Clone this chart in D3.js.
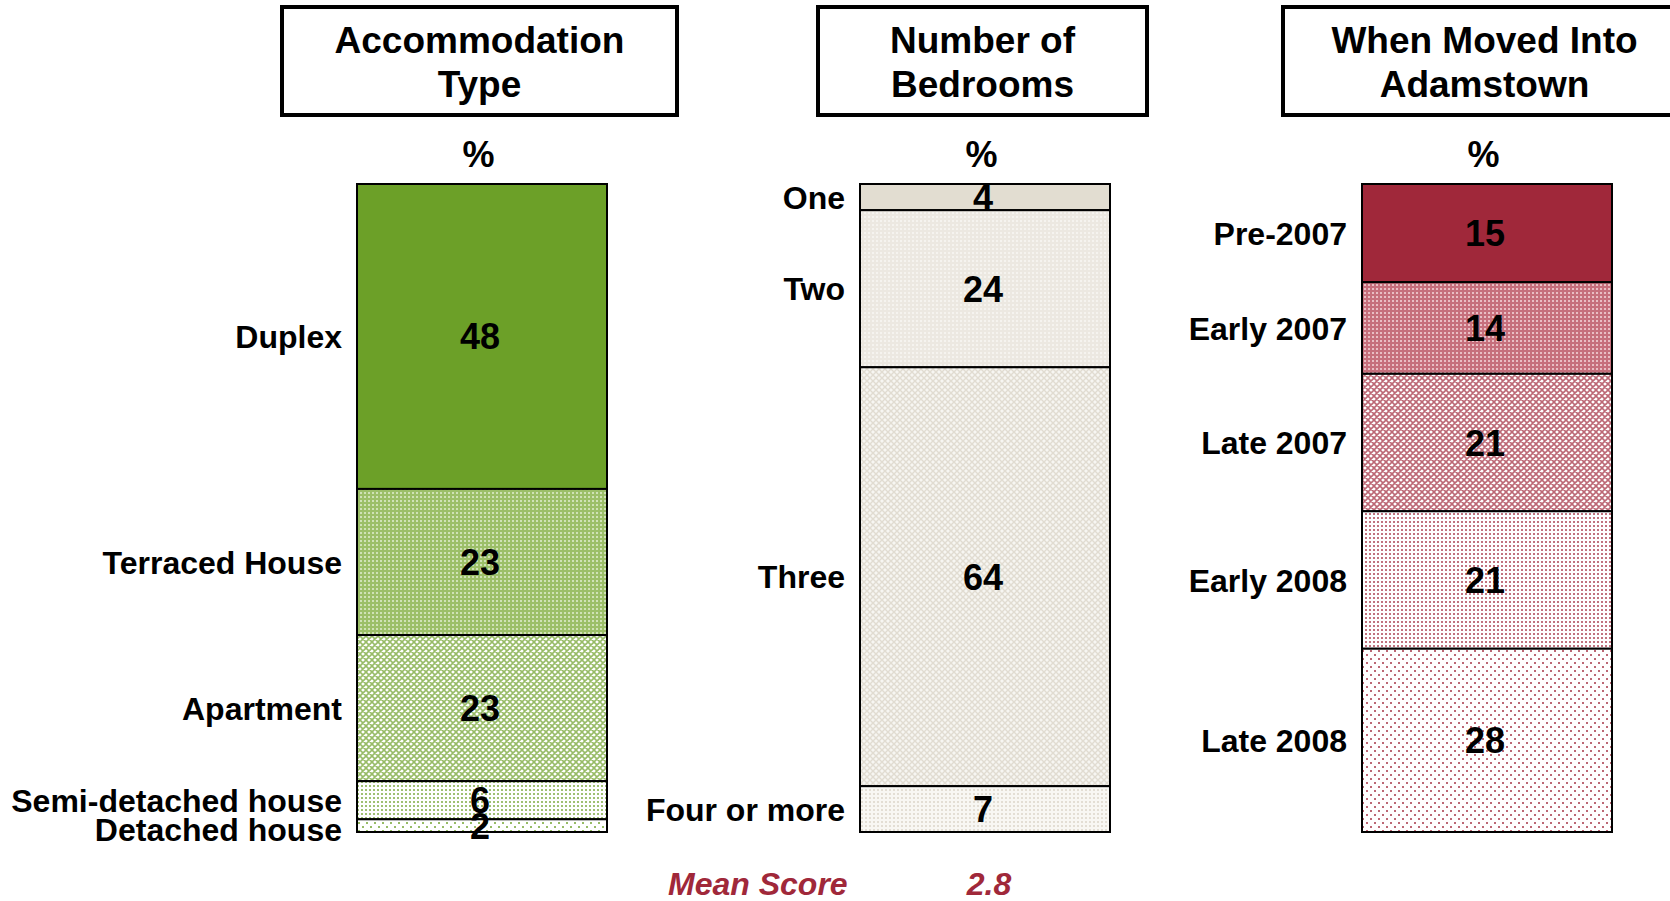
<!DOCTYPE html>
<html>
<head>
<meta charset="utf-8">
<script src="https://cdn.jsdelivr.net/npm/d3@7"></script>
<style>
  html, body { margin: 0; padding: 0; background: #ffffff; }
  svg { display: block; font-family: "Liberation Sans", Arial, sans-serif; }
</style>
</head>
<body>
<svg id="chart" width="1670" height="901"></svg>
<script>
// Survey profile: three 100% stacked columns
const accomCategories = ["Duplex", "Terraced House", "Apartment", "Semi-detached house", "Detached house"];
const accomValues = [48, 23, 23, 6, 2];

const bedroomCategories = ["One", "Two", "Three", "Four or more"];
const bedroomValues = [4, 24, 64, 7];

const movedCategories = ["Pre-2007", "Early 2007", "Late 2007", "Early 2008", "Late 2008"];
const movedValues = [15, 14, 21, 21, 28];

const panelTitles = [["Accommodation", "Type"], ["Number of", "Bedrooms"], ["When Moved Into", "Adamstown"]];
const meanScoreLabel = "Mean Score";
const meanScoreValue = 2.8;

const svg = d3.select("#chart");
const defs = svg.append("defs");

// Fill patterns: dense dots, lattice, dotted grid, sparse dots
function makePatterns(prefix, dark, mid, light) {
  // dense: coloured ground with pale squares
  let p = defs.append("pattern").attr("id", prefix + "-dense")
    .attr("patternUnits", "userSpaceOnUse").attr("width", 4).attr("height", 4);
  p.append("rect").attr("width", 4).attr("height", 4).attr("fill", mid);
  p.append("rect").attr("x", 0).attr("y", 0).attr("width", 2).attr("height", 2).attr("fill", light);

  // lattice: diagonal cross-hatch on white
  p = defs.append("pattern").attr("id", prefix + "-lattice")
    .attr("patternUnits", "userSpaceOnUse").attr("width", 6).attr("height", 6);
  p.append("rect").attr("width", 6).attr("height", 6).attr("fill", "#ffffff");
  p.append("path").attr("d", "M0,0L6,6M6,0L0,6M-1,5L1,7M5,-1L7,1M-1,1L1,-1M5,7L7,5")
    .attr("stroke", dark).attr("stroke-width", 1.6).attr("stroke-opacity", 0.7);

  // dotted grid
  p = defs.append("pattern").attr("id", prefix + "-dots")
    .attr("patternUnits", "userSpaceOnUse").attr("width", 4).attr("height", 4);
  p.append("rect").attr("width", 4).attr("height", 4).attr("fill", "#ffffff");
  p.append("rect").attr("x", 1).attr("y", 1).attr("width", 2).attr("height", 2).attr("fill", dark).attr("fill-opacity", 0.65);

  // sparse dots
  p = defs.append("pattern").attr("id", prefix + "-sparse")
    .attr("patternUnits", "userSpaceOnUse").attr("width", 8).attr("height", 8);
  p.append("rect").attr("width", 8).attr("height", 8).attr("fill", "#ffffff");
  p.append("rect").attr("x", 2).attr("y", 2).attr("width", 2).attr("height", 2).attr("fill", dark).attr("fill-opacity", 0.7);
  p.append("rect").attr("x", 6).attr("y", 6).attr("width", 2).attr("height", 2).attr("fill", dark).attr("fill-opacity", 0.7);
}
makePatterns("grn", "#6B9E27", "#9CBF68", "#D0E2B6");
makePatterns("red", "#A0283A", "#C66F7C", "#E9BEC4");

// Pale beige patterns for the bedrooms column
function makeBeige() {
  let p = defs.append("pattern").attr("id", "bge-dense")
    .attr("patternUnits", "userSpaceOnUse").attr("width", 4).attr("height", 4);
  p.append("rect").attr("width", 4).attr("height", 4).attr("fill", "#ECE8E1");
  p.append("rect").attr("width", 2).attr("height", 2).attr("fill", "#F5F3EF");
  p = defs.append("pattern").attr("id", "bge-lattice")
    .attr("patternUnits", "userSpaceOnUse").attr("width", 6).attr("height", 6);
  p.append("rect").attr("width", 6).attr("height", 6).attr("fill", "#F7F6F2");
  p.append("path").attr("d", "M0,0L6,6M6,0L0,6").attr("stroke", "#E1DCD1").attr("stroke-width", 1.4);
  p = defs.append("pattern").attr("id", "bge-dots")
    .attr("patternUnits", "userSpaceOnUse").attr("width", 4).attr("height", 4);
  p.append("rect").attr("width", 4).attr("height", 4).attr("fill", "#F8F7F3");
  p.append("rect").attr("x", 1).attr("y", 1).attr("width", 2).attr("height", 2).attr("fill", "#E3DED4");
}
makeBeige();

const panels = [
  {
    categories: accomCategories, values: accomValues, title: panelTitles[0],
    barX: 357, box: [282, 677],
    fills: ["#6CA028", "url(#grn-dense)", "url(#grn-lattice)", "url(#grn-dots)", "url(#grn-sparse)"]
  },
  {
    categories: bedroomCategories, values: bedroomValues, title: panelTitles[1],
    barX: 860, box: [818, 1147],
    fills: ["#E2DDD1", "url(#bge-dense)", "url(#bge-lattice)", "url(#bge-dots)"]
  },
  {
    categories: movedCategories, values: movedValues, title: panelTitles[2],
    barX: 1362, box: [1283, 1686],
    fills: ["#A0283A", "url(#red-dense)", "url(#red-lattice)", "url(#red-dots)", "url(#red-sparse)"]
  }
];

const barWidth = 250;
const barTop = 184, barBottom = 832;
const minLabelGap = 29;

panels.forEach(panel => {
  const g = svg.append("g");
  const cx = (panel.box[0] + panel.box[1]) / 2;

  // Title box
  g.append("rect")
    .attr("x", panel.box[0]).attr("y", 7)
    .attr("width", panel.box[1] - panel.box[0]).attr("height", 108)
    .attr("fill", "none").attr("stroke", "#000").attr("stroke-width", 4);
  g.selectAll("text.title").data(panel.title).join("text")
    .attr("class", "title")
    .attr("x", cx).attr("y", (d, i) => 53 + i * 44)
    .attr("text-anchor", "middle")
    .attr("font-size", 37).attr("font-weight", "bold")
    .text(d => d);

  // Percent heading
  g.append("text")
    .attr("x", cx - 1).attr("y", 167)
    .attr("text-anchor", "middle")
    .attr("font-size", 36).attr("font-weight", "bold")
    .text("%");

  // Stacked segments
  const total = d3.sum(panel.values);
  const y = d3.scaleLinear().domain([0, total]).range([barTop, barBottom]);
  const stacked = panel.values.map((v, i) => {
    const start = d3.sum(panel.values.slice(0, i));
    return { cat: panel.categories[i], value: v, y0: start, y1: start + v, fill: panel.fills[i] };
  });

  g.selectAll("rect.seg").data(stacked).join("rect")
    .attr("class", "seg")
    .attr("x", panel.barX).attr("width", barWidth)
    .attr("y", d => y(d.y0)).attr("height", d => y(d.y1) - y(d.y0))
    .attr("fill", d => d.fill)
    .attr("stroke", "#000").attr("stroke-width", 2);

  // Values inside segments
  g.selectAll("text.val").data(stacked).join("text")
    .attr("class", "val")
    .attr("x", panel.barX + barWidth / 2 - 2)
    .attr("y", d => (y(d.y0) + y(d.y1)) / 2)
    .attr("dy", "0.36em")
    .attr("text-anchor", "middle")
    .attr("font-size", 36).attr("font-weight", "bold")
    .text(d => d.value);

  // Category labels to the left, kept at least one line apart
  let prev = -Infinity;
  const labelY = stacked.map(d => {
    const c = Math.max((y(d.y0) + y(d.y1)) / 2, prev + minLabelGap);
    prev = c;
    return c;
  });
  g.selectAll("text.cat").data(stacked).join("text")
    .attr("class", "cat")
    .attr("x", panel.barX - 15)
    .attr("y", (d, i) => labelY[i])
    .attr("dy", "0.36em")
    .attr("text-anchor", "end")
    .attr("font-size", 32).attr("font-weight", "bold")
    .text(d => d.cat);
});

// Mean score under the bedrooms column
svg.append("text")
  .attr("x", 668).attr("y", 895)
  .attr("font-size", 32).attr("font-weight", "bold").attr("font-style", "italic")
  .attr("fill", "#A0283A")
  .text(meanScoreLabel);
svg.append("text")
  .attr("x", 989).attr("y", 895)
  .attr("text-anchor", "middle")
  .attr("font-size", 32).attr("font-weight", "bold").attr("font-style", "italic")
  .attr("fill", "#A0283A")
  .text(meanScoreValue.toFixed(1));
</script>
</body>
</html>
